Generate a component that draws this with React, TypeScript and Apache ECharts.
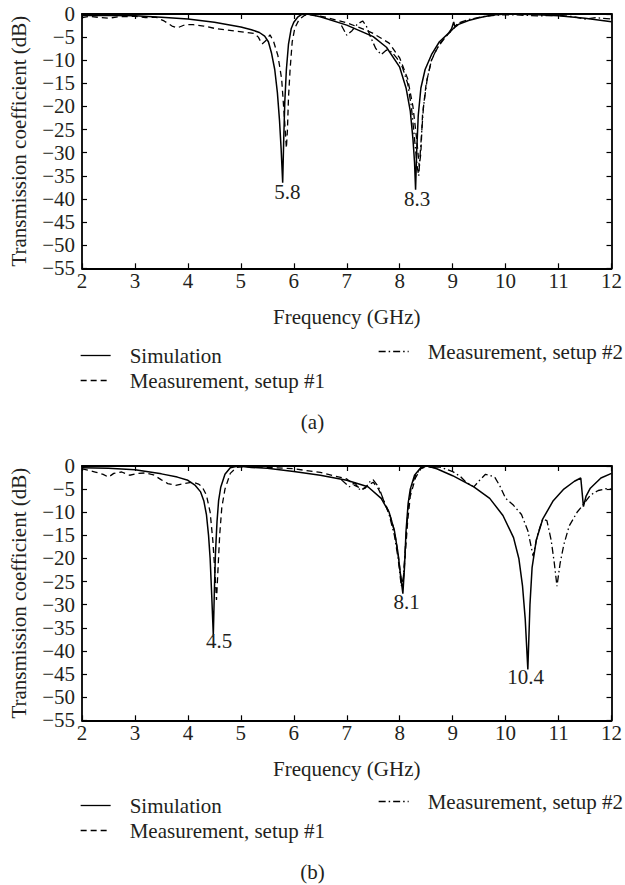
import React, { useEffect, useRef } from "react";
import * as echarts from "echarts";

// ---------- data (frequency GHz, transmission dB) ----------
const simA: [number, number][] = [
  [2.0, -0.3], [2.5, -0.3], [3.0, -0.4], [3.5, -0.7], [4.0, -1.1], [4.5, -1.8], [5.0, -2.8], [5.2, -3.4],
  [5.35, -4.0], [5.45, -4.8], [5.52, -6.0], [5.58, -8.5], [5.64, -12], [5.69, -17], [5.73, -23], [5.76, -29],
  [5.79, -36.5], [5.81, -27], [5.83, -19], [5.86, -12], [5.9, -6.5], [5.95, -3.2], [6.0, -1.8], [6.08, -0.6],
  [6.15, -0.1], [6.25, 0], [6.5, -0.6], [7.0, -2.4], [7.5, -4.9], [7.75, -7.2], [8.0, -11.5], [8.12, -16],
  [8.2, -21], [8.25, -27], [8.28, -32], [8.3, -38], [8.32, -30], [8.35, -22], [8.4, -16], [8.48, -12],
  [8.6, -8.8], [8.75, -6], [8.92, -4.2], [8.98, -3.2], [9.02, -1.7], [9.04, -2.7], [9.1, -2.3], [9.3, -1.4],
  [9.5, -0.8], [9.75, -0.2], [10.0, 0], [10.5, -0.1], [11.0, -0.4], [11.5, -0.9], [12.0, -1.7],
];
const setup1A: [number, number][] = [
  [2.0, -0.8], [2.15, -0.5], [2.3, -0.7], [2.5, -0.9], [2.7, -0.6], [3.0, -0.5], [3.2, -0.8], [3.4, -0.7],
  [3.55, -1.5], [3.7, -2.6], [3.8, -3.0], [3.95, -2.3], [4.1, -2.3], [4.3, -2.6], [4.5, -3.1], [4.7, -3.4],
  [4.9, -3.7], [5.1, -4.0], [5.25, -4.2], [5.33, -5.0], [5.4, -6.5], [5.47, -5.8], [5.55, -4.5], [5.62, -6.0],
  [5.7, -9], [5.77, -14], [5.82, -22], [5.86, -29], [5.88, -25], [5.9, -18], [5.93, -12], [5.97, -6],
  [6.02, -3], [6.1, -1.2], [6.2, -0.3], [6.3, -0.1], [6.6, -0.7], [7.0, -1.9], [7.3, -3.2], [7.5, -4.2],
  [7.8, -6.3], [8.0, -9.5], [8.15, -14], [8.25, -20], [8.32, -27], [8.37, -33], [8.4, -30], [8.43, -22],
  [8.5, -15], [8.6, -10], [8.75, -6.5], [8.9, -4.5], [9.05, -2.8], [9.2, -1.6],
];
const setup2A: [number, number][] = [
  [6.9, -2.5], [7.0, -4.6], [7.1, -3.6], [7.2, -2.2], [7.3, -1.5], [7.37, -2.6], [7.45, -5], [7.55, -7.5],
  [7.65, -8.8], [7.75, -7.8], [7.85, -8.2], [7.95, -9.6], [8.05, -11.5], [8.15, -15], [8.22, -20], [8.28, -27],
  [8.33, -33], [8.36, -35], [8.4, -28], [8.45, -20], [8.52, -14], [8.6, -10], [8.7, -7.5], [8.85, -5.2],
  [9.0, -3.3], [9.1, -2.0], [9.3, -1.2], [9.6, -0.5], [9.9, -0.2], [10.2, -0.2], [10.6, -0.4], [11.0, -0.3],
  [11.3, -0.6], [11.5, -1.1], [11.7, -0.8], [12.0, -1.1],
];

const simB: [number, number][] = [
  [2.0, -0.4], [2.5, -0.5], [3.0, -0.8], [3.5, -1.7], [3.8, -2.4], [4.0, -3.1], [4.14, -4.2], [4.24, -5.6],
  [4.3, -7.5], [4.35, -10.5], [4.39, -15], [4.42, -20], [4.45, -28], [4.48, -36.6], [4.5, -27], [4.52, -19],
  [4.55, -12], [4.58, -7.5], [4.62, -4.6], [4.7, -1.8], [4.8, -0.4], [4.95, 0], [5.2, -0.3], [5.5, -0.5],
  [6.0, -1.2], [6.5, -2.0], [7.0, -3.1], [7.4, -4.5], [7.65, -7.0], [7.8, -10], [7.9, -14], [7.97, -19],
  [8.02, -24], [8.06, -27.6], [8.09, -22], [8.12, -14], [8.16, -8], [8.2, -5], [8.28, -2.0], [8.4, -0.3],
  [8.52, 0], [8.7, -0.6], [9.0, -2.1], [9.4, -4.5], [9.7, -7], [9.95, -10.7], [10.15, -15.5], [10.25, -20],
  [10.32, -26], [10.37, -33], [10.42, -44], [10.46, -30], [10.5, -22], [10.58, -16], [10.7, -11.5],
  [10.9, -7.5], [11.1, -5], [11.3, -3.3], [11.42, -2.6], [11.47, -8.8], [11.52, -6.5], [11.6, -4.8],
  [11.8, -2.6], [12.0, -1.6],
];
const setup1B: [number, number][] = [
  [2.0, -0.6], [2.15, -1.0], [2.25, -1.3], [2.4, -1.8], [2.5, -2.4], [2.6, -1.6], [2.75, -1.3], [2.9, -2.0],
  [3.05, -1.6], [3.2, -1.5], [3.35, -1.9], [3.5, -3.0], [3.62, -3.8], [3.77, -4.2], [3.93, -3.8], [4.09, -3.5],
  [4.2, -3.9], [4.27, -4.5], [4.35, -6.3], [4.42, -10], [4.47, -16], [4.51, -23], [4.54, -29], [4.57, -22],
  [4.6, -15], [4.64, -9], [4.7, -5], [4.8, -1.6], [4.92, -0.3], [5.1, -0.1], [5.5, -0.3], [6.0, -0.6],
  [6.5, -1.4], [7.0, -2.8], [7.15, -4.2], [7.3, -5.0], [7.4, -4.2], [7.5, -3.5], [7.6, -5], [7.7, -7.5],
  [7.8, -10], [7.9, -14], [7.97, -19], [8.02, -24], [8.06, -26], [8.1, -20], [8.15, -12], [8.2, -6.5],
  [8.3, -2.5], [8.4, -0.6], [8.5, -0.1], [8.6, -0.2], [8.7, -0.5],
];
const setup2B: [number, number][] = [
  [6.9, -3], [7.05, -4.5], [7.15, -3.6], [7.25, -5.2], [7.35, -4.8], [7.45, -3.2], [7.5, -3.0], [7.6, -4.5],
  [7.7, -7.5], [7.8, -10.5], [7.9, -15], [7.97, -20], [8.03, -26], [8.07, -24], [8.11, -17], [8.16, -9],
  [8.22, -4.5], [8.3, -2], [8.4, -0.5], [8.5, 0], [8.6, -0.3], [8.75, -0.2], [8.9, -0.8], [9.0, -1.2],
  [9.15, -2.3], [9.25, -3.5], [9.4, -4.5], [9.5, -3.2], [9.62, -1.8], [9.7, -2.0], [9.8, -2.5], [9.9, -4.5],
  [10.0, -7], [10.15, -8.5], [10.3, -10.5], [10.42, -14], [10.52, -19.5], [10.6, -15], [10.7, -11.5],
  [10.78, -11.8], [10.86, -16], [10.92, -21], [10.97, -26], [11.03, -21], [11.1, -17], [11.2, -13],
  [11.35, -10], [11.45, -8.6], [11.6, -6.3], [11.75, -5.3], [11.9, -4.9], [12.0, -5.0],
];

// resonance annotations: [label, freq, dB]
const notesA: [string, number, number][] = [["5.8", 5.88, -38.5], ["8.3", 8.33, -40.1]];
const notesB: [string, number, number][] = [["4.5", 4.59, -37.8], ["8.1", 8.13, -29.5], ["10.4", 10.38, -45.6]];

const seriesNames = ["Simulation", "Measurement, setup #1", "Measurement, setup #2"];
const panelTags = ["(a)", "(b)"];
const xTitle = "Frequency (GHz)";
const yTitle = "Transmission coefficient (dB)";

// ---------- styling ----------
const FONT = "Liberation Serif, Times New Roman, serif";
const TXT = "#231f20";
const FS = 21;
const GRID_TOPS = [14, 466];
const GRID_LEFT = 81;
const GRID_W = 531;
const GRID_H = 254.3;
const PANEL_SHIFT = 450;

function buildOption() {
  const grids: any[] = [];
  const xAxes: any[] = [];
  const yAxes: any[] = [];
  const series: any[] = [];
  const legends: any[] = [];
  const graphics: any[] = [];
  const panels = [
    { sim: simA, s1: setup1A, s2: setup2A, notes: notesA },
    { sim: simB, s1: setup1B, s2: setup2B, notes: notesB },
  ];
  const axisLine = { show: true, onZero: false, lineStyle: { color: "#000", width: 1.8 } };
  const axisTick = { show: true, inside: true, length: 5, lineStyle: { color: "#000", width: 1.2 } };
  const labelStyle = { fontFamily: FONT, fontSize: FS, color: TXT };

  panels.forEach((p, i) => {
    grids.push({ left: GRID_LEFT, top: GRID_TOPS[i], width: GRID_W, height: GRID_H, containLabel: false });
    xAxes.push({
      type: "value", gridIndex: i, position: "bottom", min: 2, max: 12, interval: 1,
      axisLine, axisTick, splitLine: { show: false },
      axisLabel: { ...labelStyle, margin: 2 },
      name: xTitle, nameLocation: "middle", nameGap: 38,
      nameTextStyle: { ...labelStyle },
    });
    xAxes.push({
      type: "value", gridIndex: i, position: "top", min: 2, max: 12, interval: 1,
      axisLine, axisTick, splitLine: { show: false }, axisLabel: { show: false },
    });
    yAxes.push({
      type: "value", gridIndex: i, position: "left", min: -55, max: 0, interval: 5,
      axisLine, axisTick, splitLine: { show: false },
      axisLabel: { ...labelStyle, margin: 7, formatter: (v: number) => String(v).replace("-", "\u2212") },
      name: yTitle, nameLocation: "middle", nameGap: 53, nameRotate: 90,
      nameTextStyle: { ...labelStyle },
    });
    yAxes.push({
      type: "value", gridIndex: i, position: "right", min: -55, max: 0, interval: 5,
      axisLine, axisTick, splitLine: { show: false }, axisLabel: { show: false },
    });
    const xi = i * 2;
    const yi = i * 2;
    series.push({
      name: seriesNames[0], type: "line", xAxisIndex: xi, yAxisIndex: yi, data: p.sim,
      symbol: "none", showSymbol: false, z: 3,
      itemStyle: { color: "#000" },
      lineStyle: { color: "#000", width: 1.5, type: "solid" },
      markPoint: {
        symbol: "circle", symbolSize: 0, silent: true,
        label: { show: true, position: "inside", formatter: "{b}", ...labelStyle },
        itemStyle: { color: "transparent" },
        data: p.notes.map((n) => ({ name: n[0], coord: [n[1], n[2]] })),
      },
    });
    series.push({
      name: seriesNames[1], type: "line", xAxisIndex: xi, yAxisIndex: yi, data: p.s1,
      symbol: "none", showSymbol: false, z: 2,
      itemStyle: { color: "#000" },
      lineStyle: { color: "#000", width: 1.3, type: [6, 4] },
    });
    series.push({
      name: seriesNames[2], type: "line", xAxisIndex: xi, yAxisIndex: yi, data: p.s2,
      symbol: "none", showSymbol: false, z: 2,
      itemStyle: { color: "#000" },
      lineStyle: { color: "#000", width: 1.3, type: [7, 3, 1.5, 3] },
    });

    const dy = i * PANEL_SHIFT;
    const legendCommon = {
      orient: "horizontal", padding: 0, itemWidth: 30, itemHeight: 12, selectedMode: false,
      itemStyle: { color: "transparent", borderColor: "transparent", borderWidth: 0, opacity: 0 },
      lineStyle: { color: "#000", width: 1.3, opacity: 1 },
      textStyle: { ...labelStyle, padding: [0, 0, 0, 14] },
    };
    legends.push({ ...legendCommon, data: [seriesNames[0]], left: 80, top: 345 + dy });
    legends.push({ ...legendCommon, data: [seriesNames[1]], left: 80, top: 370 + dy });
    legends.push({ ...legendCommon, data: [seriesNames[2]], left: 378, top: 341 + dy });
    graphics.push({
      type: "text", x: 312.5, y: 421.7 + dy,
      style: { text: panelTags[i], fontFamily: FONT, fontSize: FS, fill: TXT, align: "center", verticalAlign: "middle" },
    });
  });

  return {
    animation: false,
    backgroundColor: "#fff",
    textStyle: { fontFamily: FONT },
    grid: grids,
    xAxis: xAxes,
    yAxis: yAxes,
    legend: legends,
    series,
    graphic: graphics,
  };
}

export default function App() {
  const ref = useRef<HTMLDivElement>(null);
  useEffect(() => {
    if (!ref.current) return;
    const chart = echarts.init(ref.current, undefined, { renderer: "svg" });
    chart.setOption(buildOption() as any);
    return () => chart.dispose();
  }, []);
  return (
    <div
      ref={ref}
      style={{ position: "absolute", left: 0, top: 0, width: 625, height: 885, background: "#fff" }}
    />
  );
}
